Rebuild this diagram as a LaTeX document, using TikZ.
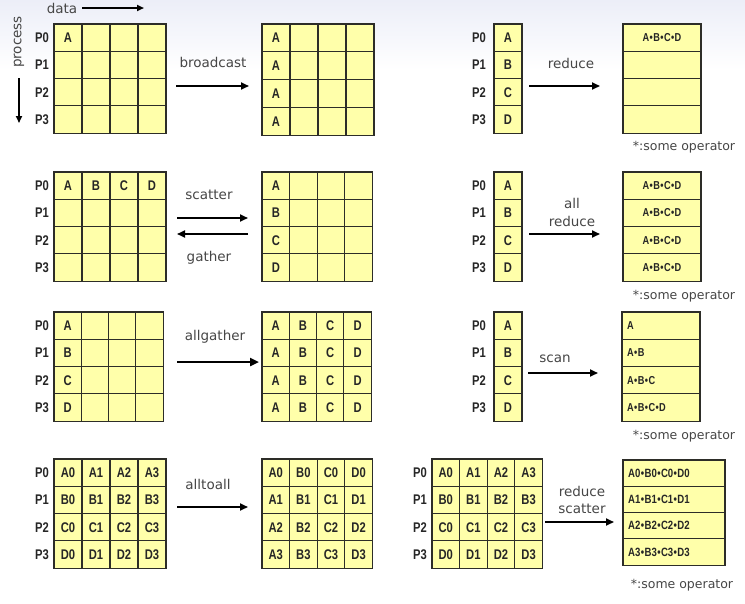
\documentclass[tikz,border=0pt]{standalone}
\usepackage{fontspec}
\setmainfont{DejaVu Sans}
\newfontfamily\cellfont[FakeStretch=0.8]{Liberation Sans Bold}
\usetikzlibrary{arrows.meta}
\definecolor{cellfill}{RGB}{255,255,170}
\definecolor{cellline}{RGB}{45,45,40}
\definecolor{labelgray}{RGB}{70,70,70}
\definecolor{topbg}{RGB}{236,238,248}
\tikzset{
  cell/.style={draw=cellline, fill=cellfill, line width=1.1pt, inner sep=0pt, outer sep=0pt},
  ctext/.style={font=\cellfont\fontsize{14}{14}\selectfont, text=black!85, inner sep=0pt},
  otext/.style={font=\cellfont\fontsize{11.5}{11.5}\selectfont, text=black!85, inner sep=0pt},
  otextb/.style={font=\cellfont\fontsize{12}{12}\selectfont, text=black!85, inner sep=0pt},
  plabel/.style={font=\cellfont\fontsize{14}{14}\selectfont, text=black!85, inner sep=0pt},
  oplabel/.style={font=\fontsize{13.5}{15}\selectfont, text=labelgray, inner sep=0pt},
  somelabel/.style={font=\fontsize{12.5}{13}\selectfont, text=labelgray, inner sep=0pt},
  flow/.style={line width=1.8pt, -{Triangle[length=8pt,width=7pt]}},
  flowthick/.style={line width=2.3pt, -{Triangle[length=9pt,width=8pt]}},
}
% name, x0, y0, cols, cell width, cell height
\newcommand\gridcells[6]{%
  \foreach \r in {0,...,3}{%
    \foreach \c in {1,...,#4}{%
      \node[cell, minimum width=#5pt, minimum height=#6pt] (#1-\r-\c) at ({#2+(\c-0.5)*#5},{#3+(\r+0.5)*#6}) {};
    }%
  }%
}
% name, list r/c/text
\newcommand\celltexts[2]{%
  \foreach \r/\c/\txt in {#2}{\node[ctext] (#1-t-\r-\c) at (#1-\r-\c) {\txt};}%
}
% name, x, y0, h
\newcommand\plabels[4]{%
  \foreach \r in {0,...,3}{\node[plabel] (#1-p\r) at ({#2},{#3+(\r+0.5)*#4}) {P\r};}%
}
\newcommand\opdot{\kern0.4pt•\kern0.4pt}
\begin{document}
\begin{tikzpicture}[x=1pt,y=-1pt]
\useasboundingbox (0,0) rectangle (745,603);
\shade[top color=topbg, bottom color=white] (0,0) rectangle (745,70);
\fill[white] (0,70) rectangle (745,603);

% axis annotations
\node[oplabel, anchor=center] (data) at (62,8) {data};
\coordinate (dataA) at (82,8);
\coordinate (dataB) at (144,8);
\draw[line width=1.6pt, -{Triangle[length=7pt,width=6pt]}] (dataA) -- (dataB);
\node[oplabel, rotate=90] (process) at (19,42) {process};
\coordinate (procA) at (19,78);
\coordinate (procB) at (19,123);
\draw[line width=1.6pt, -{Triangle[length=7pt,width=6pt]}] (procA) -- (procB);

% ---------- row 1 ----------
\gridcells{g1}{54}{24}{4}{28}{27.3}
\celltexts{g1}{0/1/A}
\plabels{g1}{42}{24}{27.3}
\gridcells{g2}{262}{24}{4}{28}{27.8}
\celltexts{g2}{0/1/A,1/1/A,2/1/A,3/1/A}
\node[oplabel] (lbroad) at (213,62) {broadcast};
\coordinate (broadA) at (176,86);
\coordinate (broadB) at (249,86);
\draw[flow] (broadA) -- (broadB);

\gridcells{g3}{494}{24}{1}{28}{27.3}
\celltexts{g3}{0/1/A,1/1/B,2/1/C,3/1/D}
\plabels{g3}{479}{24}{27.3}
\gridcells{g4}{623}{24}{1}{78}{27.3}
\node[otext] (g4-t0) at (g4-0-1) {A\opdot B\opdot C\opdot D};
\node[oplabel] (lred) at (571,63) {reduce};
\coordinate (redA) at (529,86);
\coordinate (redB) at (600,86);
\draw[flow] (redA) -- (redB);
\node[somelabel] (some1) at (684,147) {*:some operator};

% ---------- row 2 ----------
\gridcells{g5}{54}{172}{4}{28}{27.3}
\celltexts{g5}{0/1/A,0/2/B,0/3/C,0/4/D}
\plabels{g5}{42}{172}{27.3}
\gridcells{g6}{262}{172}{4}{27.6}{27.3}
\celltexts{g6}{0/1/A,1/1/B,2/1/C,3/1/D}
\node[oplabel] (lscat) at (209,195) {scatter};
\node[oplabel] (lgath) at (209,258) {gather};
\coordinate (scatA) at (177,218);
\coordinate (scatB) at (248,218);
\draw[flow] (scatA) -- (scatB);
\coordinate (gathA) at (248,234);
\coordinate (gathB) at (177,234);
\draw[flow] (gathA) -- (gathB);

\gridcells{g7}{494}{172}{1}{28}{27.3}
\celltexts{g7}{0/1/A,1/1/B,2/1/C,3/1/D}
\plabels{g7}{479}{172}{27.3}
\gridcells{g8}{623}{172}{1}{78}{27.3}
\foreach \r in {0,...,3}{\node[otext] (g8-t\r) at (g8-\r-1) {A\opdot B\opdot C\opdot D};}
\node[oplabel] (lall) at (572,203) {all};
\node[oplabel] (lallred) at (572,221) {reduce};
\coordinate (allA) at (529,234);
\coordinate (allB) at (600,234);
\draw[flow] (allA) -- (allB);
\node[somelabel] (some2) at (684,296) {*:some operator};

% ---------- row 3 ----------
\gridcells{g9}{54}{312}{4}{27.3}{27.3}
\celltexts{g9}{0/1/A,1/1/B,2/1/C,3/1/D}
\plabels{g9}{42}{312}{27.3}
\gridcells{g10}{262}{312}{4}{27.3}{27.3}
\celltexts{g10}{0/1/A,0/2/B,0/3/C,0/4/D,1/1/A,1/2/B,1/3/C,1/4/D,2/1/A,2/2/B,2/3/C,2/4/D,3/1/A,3/2/B,3/3/C,3/4/D}
\node[oplabel] (lallg) at (215,337) {allgather};
\coordinate (allgA) at (177,362);
\coordinate (allgB) at (259,362);
\draw[flowthick] (allgA) -- (allgB);

\gridcells{g11}{494}{312}{1}{28}{27.3}
\celltexts{g11}{0/1/A,1/1/B,2/1/C,3/1/D}
\plabels{g11}{479}{312}{27.3}
\gridcells{g12}{622}{312}{1}{78}{27.3}
\node[otext, anchor=west] (g12-t0) at ([xshift=5pt]g12-0-1.west) {A};
\node[otext, anchor=west] (g12-t1) at ([xshift=5pt]g12-1-1.west) {A\opdot B};
\node[otext, anchor=west] (g12-t2) at ([xshift=5pt]g12-2-1.west) {A\opdot B\opdot C};
\node[otext, anchor=west] (g12-t3) at ([xshift=5pt]g12-3-1.west) {A\opdot B\opdot C\opdot D};
\node[oplabel] (lscan) at (555,359) {scan};
\coordinate (scanA) at (528,373);
\coordinate (scanB) at (598,373);
\draw[flow] (scanA) -- (scanB);
\node[somelabel] (some3) at (684,436) {*:some operator};

% ---------- row 4 ----------
\gridcells{g13}{54}{459}{4}{28}{27.3}
\celltexts{g13}{0/1/A0,0/2/A1,0/3/A2,0/4/A3,1/1/B0,1/2/B1,1/3/B2,1/4/B3,2/1/C0,2/2/C1,2/3/C2,2/4/C3,3/1/D0,3/2/D1,3/3/D2,3/4/D3}
\plabels{g13}{42}{459}{27.3}
\gridcells{g14}{262}{459}{4}{27.6}{27.3}
\celltexts{g14}{0/1/A0,0/2/B0,0/3/C0,0/4/D0,1/1/A1,1/2/B1,1/3/C1,1/4/D1,2/1/A2,2/2/B2,2/3/C2,2/4/D2,3/1/A3,3/2/B3,3/3/C3,3/4/D3}
\node[oplabel] (lalltoall) at (208,484) {alltoall};
\coordinate (a2aA) at (177,507);
\coordinate (a2aB) at (248,507);
\draw[flow] (a2aA) -- (a2aB);

\gridcells{g15}{432}{459}{4}{27.6}{27.3}
\celltexts{g15}{0/1/A0,0/2/A1,0/3/A2,0/4/A3,1/1/B0,1/2/B1,1/3/B2,1/4/B3,2/1/C0,2/2/C1,2/3/C2,2/4/C3,3/1/D0,3/2/D1,3/3/D2,3/4/D3}
\plabels{g15}{420}{459}{27.3}
\gridcells{g16}{623}{460}{1}{102}{26.3}
\node[otextb, anchor=west] (g16-t0) at ([xshift=5pt]g16-0-1.west) {A0\opdot B0\opdot C0\opdot D0};
\node[otextb, anchor=west] (g16-t1) at ([xshift=5pt]g16-1-1.west) {A1\opdot B1\opdot C1\opdot D1};
\node[otextb, anchor=west] (g16-t2) at ([xshift=5pt]g16-2-1.west) {A2\opdot B2\opdot C2\opdot D2};
\node[otextb, anchor=west] (g16-t3) at ([xshift=5pt]g16-3-1.west) {A3\opdot B3\opdot C3\opdot D3};
\node[oplabel] (lrs1) at (582,491) {reduce};
\node[oplabel] (lrs2) at (582,509) {scatter};
\coordinate (rsA) at (545,522);
\coordinate (rsB) at (614,522);
\draw[flow] (rsA) -- (rsB);
\node[somelabel] (some4) at (682,585) {*:some operator};
\end{tikzpicture}
\end{document}
